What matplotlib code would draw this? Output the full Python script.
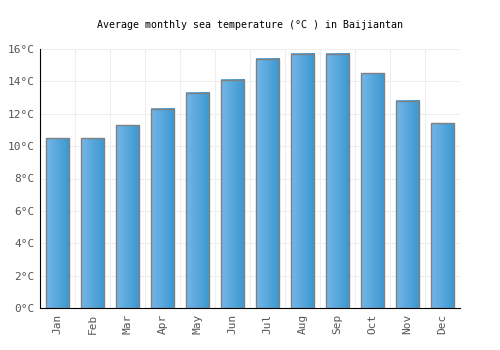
import numpy as np
import matplotlib.pyplot as plt
from matplotlib.colors import LinearSegmentedColormap

months = ["Jan", "Feb", "Mar", "Apr", "May", "Jun", "Jul", "Aug", "Sep", "Oct", "Nov", "Dec"]
temps = [10.5, 10.5, 11.3, 12.3, 13.3, 14.1, 15.4, 15.7, 15.7, 14.5, 12.8, 11.4]
yticks = [0, 2, 4, 6, 8, 10, 12, 14, 16]

plt.rcParams["font.family"] = "DejaVu Sans Mono"

fig = plt.figure(figsize=(5, 3.5), dpi=100)
ax = fig.add_axes([0.08, 0.12, 0.84, 0.74])

cmap = LinearSegmentedColormap.from_list("bar", ["#74b6e8", "#3a98d0"])
grad = np.linspace(0, 1, 64).reshape(1, -1)
w = 0.68
x = np.arange(len(months))
for xi, t in zip(x, temps):
    ax.imshow(grad, cmap=cmap, aspect="auto", extent=(xi - w / 2, xi + w / 2, 0, t), zorder=2)
ax.bar(x, temps, width=w, facecolor="none", edgecolor="#808080", linewidth=1, zorder=3)

ax.set_xlim(-0.5, len(months) - 0.5)
ax.set_ylim(0, 16)
ax.set_xticks(x)
ax.set_xticklabels(months, rotation=90, fontsize=8, color="#555555")
ax.set_yticks(yticks)
ax.set_yticklabels([f"{v}°C" for v in yticks], fontsize=8, color="#555555")
ax.set_xticks(np.arange(-0.5, len(months), 1), minor=True)
ax.grid(which="minor", axis="x", color="#eeeeee", linewidth=0.8, zorder=0)
ax.grid(which="major", axis="y", color="#eeeeee", linewidth=0.8, zorder=0)
ax.tick_params(which="both", length=0, pad=4)
for s in ["top", "right"]:
    ax.spines[s].set_visible(False)
ax.spines["left"].set_color("black")
ax.spines["bottom"].set_color("black")
ax.set_axisbelow(True)

ax.set_title("Average monthly sea temperature (°C ) in Baijiantan", fontsize=7.2, pad=15)

fig.savefig("out.png", dpi=100)
